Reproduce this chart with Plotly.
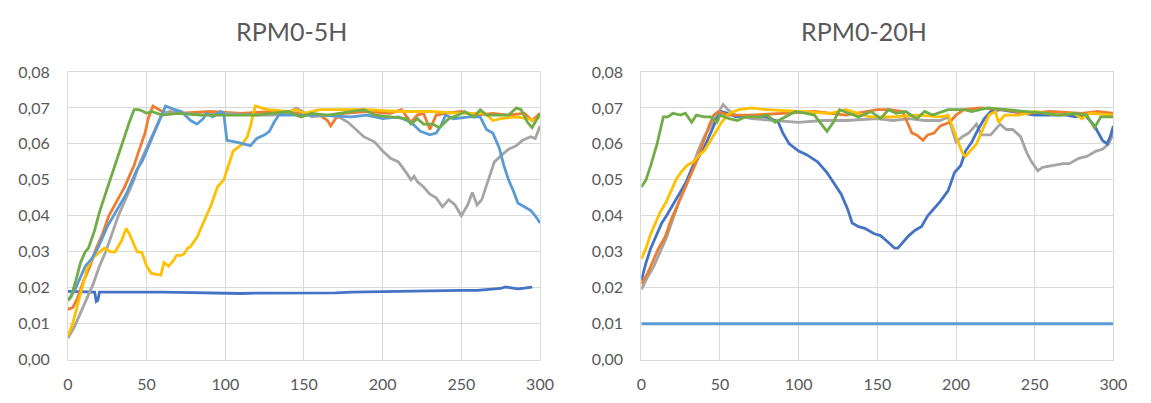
import plotly.graph_objects as go

# ---------------- data ----------------
titles = ["RPM0-5H", "RPM0-20H"]
y_tickvals = [0.00, 0.01, 0.02, 0.03, 0.04, 0.05, 0.06, 0.07, 0.08]
y_ticktext = ["0,00", "0,01", "0,02", "0,03", "0,04", "0,05", "0,06", "0,07", "0,08"]
x_tickvals = [0, 50, 100, 150, 200, 250, 300]

# Left chart (RPM0-5H)
L_blue_x = [0, 5, 10, 15, 17, 18, 19, 20, 22, 30, 40, 50, 60, 70, 80, 90, 100, 110, 120, 130, 140, 150, 160, 170, 180, 190, 200, 210, 220, 230, 240, 250, 260, 270, 275, 278, 282, 286, 290, 295]
L_blue_y = [0.019, 0.019, 0.019, 0.019, 0.0188, 0.0162, 0.0165, 0.0188, 0.0188, 0.019, 0.0188, 0.0188, 0.0188, 0.0187, 0.0186, 0.0186, 0.0186, 0.0184, 0.0185, 0.0185, 0.0185, 0.0184, 0.0185, 0.0186, 0.0188, 0.0189, 0.019, 0.019, 0.019, 0.0192, 0.0193, 0.0193, 0.0193, 0.0195, 0.0198, 0.0202, 0.0199, 0.0197, 0.0199, 0.0202]

L_orange_x = [0, 3, 6, 10, 14, 18, 22, 26, 31, 36, 40, 42, 45, 49, 51, 54, 58, 62, 70, 90, 110, 130, 150, 160, 165, 167, 170, 175, 190, 205, 212, 218, 222, 226, 230, 234, 240, 250, 260, 270, 280, 290, 295, 300]
L_orange_y = [0.014, 0.0145, 0.017, 0.022, 0.026, 0.031, 0.035, 0.040, 0.044, 0.048, 0.052, 0.054, 0.058, 0.063, 0.067, 0.0705, 0.0695, 0.0685, 0.0685, 0.069, 0.0685, 0.069, 0.0685, 0.068, 0.0665, 0.065, 0.067, 0.0685, 0.069, 0.0685, 0.0695, 0.066, 0.068, 0.0685, 0.064, 0.068, 0.0685, 0.069, 0.068, 0.0685, 0.068, 0.0685, 0.0665, 0.0685]

L_gray_x = [0, 4, 8, 12, 16, 20, 24, 28, 32, 37, 42, 46, 51, 56, 60, 65, 75, 85, 100, 120, 130, 140, 145, 155, 165, 172, 178, 183, 188, 195, 200, 205, 210, 215, 218, 220, 222, 226, 230, 234, 238, 242, 246, 250, 254, 257, 260, 263, 267, 271, 276, 280, 285, 289, 294, 297, 300]
L_gray_y = [0.006, 0.009, 0.013, 0.017, 0.021, 0.026, 0.030, 0.035, 0.040, 0.045, 0.050, 0.055, 0.060, 0.065, 0.0685, 0.069, 0.0685, 0.068, 0.0685, 0.068, 0.068, 0.0685, 0.070, 0.0675, 0.068, 0.0675, 0.066, 0.064, 0.062, 0.0605, 0.058, 0.056, 0.055, 0.052, 0.050, 0.051, 0.0495, 0.048, 0.046, 0.045, 0.0425, 0.0445, 0.043, 0.040, 0.043, 0.0465, 0.043, 0.0445, 0.050, 0.055, 0.057, 0.0585, 0.0595, 0.061, 0.062, 0.0615, 0.065]

L_yellow_x = [0, 3, 6, 9, 12, 15, 20, 23, 27, 30, 34, 37, 39, 42, 44, 47, 50, 53, 56, 59, 61, 64, 67, 69, 72, 74, 76, 78, 82, 85, 88, 91, 95, 99, 102, 105, 108, 111, 114, 116, 119, 123, 127, 140, 145, 150, 160, 175, 190, 210, 230, 250, 265, 270, 275, 285, 292, 296, 300]
L_yellow_y = [0.0065, 0.010, 0.015, 0.020, 0.025, 0.028, 0.030, 0.031, 0.030, 0.030, 0.033, 0.0365, 0.035, 0.032, 0.030, 0.0298, 0.026, 0.024, 0.0238, 0.0235, 0.027, 0.026, 0.0275, 0.029, 0.029, 0.0295, 0.031, 0.0315, 0.034, 0.037, 0.040, 0.043, 0.048, 0.050, 0.054, 0.058, 0.059, 0.060, 0.062, 0.065, 0.0705, 0.070, 0.0695, 0.069, 0.0695, 0.0685, 0.0695, 0.0695, 0.0695, 0.069, 0.069, 0.0685, 0.0685, 0.0665, 0.067, 0.0675, 0.067, 0.0665, 0.0675]

L_lblue_x = [0, 4, 8, 11, 15, 19, 22, 25, 29, 33, 37, 40, 44, 47, 52, 56, 59, 62, 68, 72, 78, 82, 86, 88, 92, 97, 99, 101, 107, 112, 116, 120, 125, 128, 131, 134, 145, 160, 180, 190, 200, 210, 218, 224, 230, 234, 237, 240, 245, 255, 262, 266, 270, 274, 277, 280, 283, 286, 290, 294, 297, 300]
L_lblue_y = [0.0165, 0.019, 0.023, 0.026, 0.028, 0.031, 0.034, 0.037, 0.040, 0.043, 0.046, 0.049, 0.053, 0.055, 0.060, 0.064, 0.067, 0.0705, 0.0695, 0.069, 0.0665, 0.0655, 0.067, 0.0685, 0.0675, 0.069, 0.0685, 0.061, 0.0605, 0.060, 0.0595, 0.0615, 0.0625, 0.0635, 0.066, 0.068, 0.068, 0.068, 0.0675, 0.068, 0.067, 0.0675, 0.066, 0.0635, 0.0625, 0.063, 0.065, 0.068, 0.067, 0.0675, 0.0675, 0.064, 0.063, 0.059, 0.054, 0.050, 0.047, 0.0435, 0.0425, 0.0415, 0.040, 0.038]

L_green_x = [0, 2, 5, 8, 11, 13, 17, 20, 23, 26, 29, 33, 36, 39, 42, 45, 48, 50, 53, 60, 70, 85, 100, 120, 130, 140, 148, 155, 165, 180, 188, 195, 205, 215, 218, 222, 226, 232, 236, 242, 248, 252, 258, 262, 266, 280, 285, 288, 292, 295, 300]
L_green_y = [0.0165, 0.0175, 0.022, 0.027, 0.030, 0.031, 0.036, 0.041, 0.045, 0.049, 0.053, 0.058, 0.062, 0.066, 0.0695, 0.0695, 0.069, 0.0685, 0.069, 0.068, 0.0685, 0.068, 0.068, 0.068, 0.0685, 0.069, 0.0675, 0.0685, 0.068, 0.069, 0.0695, 0.068, 0.0675, 0.067, 0.0655, 0.067, 0.0655, 0.0655, 0.0645, 0.067, 0.068, 0.069, 0.0675, 0.0695, 0.068, 0.068, 0.070, 0.0695, 0.066, 0.0645, 0.0685]

# Right chart (RPM0-20H)
R_lblue_x = [0, 50, 100, 150, 200, 250, 300]
R_lblue_y = [0.01, 0.01, 0.01, 0.01, 0.01, 0.01, 0.01]

R_blue_x = [0, 3, 6, 9, 13, 16, 20, 24, 28, 32, 36, 40, 44, 48, 51, 55, 60, 70, 80, 87, 90, 94, 100, 105, 112, 118, 121, 127, 131, 134, 138, 142, 148, 152, 156, 161, 163, 167, 170, 174, 178, 182, 186, 190, 195, 199, 203, 206, 210, 214, 218, 222, 228, 235, 250, 260, 270, 276, 282, 288, 293, 296, 298, 300]
R_blue_y = [0.022, 0.027, 0.031, 0.034, 0.038, 0.040, 0.043, 0.046, 0.049, 0.053, 0.056, 0.059, 0.063, 0.067, 0.069, 0.0685, 0.0675, 0.068, 0.0675, 0.066, 0.063, 0.060, 0.058, 0.057, 0.055, 0.052, 0.050, 0.046, 0.042, 0.038, 0.037, 0.0365, 0.035, 0.0345, 0.033, 0.031, 0.031, 0.033, 0.0345, 0.036, 0.037, 0.040, 0.042, 0.044, 0.047, 0.052, 0.054, 0.058, 0.0605, 0.064, 0.067, 0.069, 0.0695, 0.069, 0.068, 0.068, 0.068, 0.0675, 0.068, 0.065, 0.061, 0.060, 0.062, 0.065]

R_orange_x = [0, 4, 8, 11, 15, 19, 23, 27, 31, 35, 39, 43, 46, 49, 55, 70, 90, 110, 130, 150, 158, 166, 169, 172, 175, 179, 182, 186, 190, 196, 200, 205, 215, 230, 245, 260, 280, 290, 300]
R_orange_y = [0.021, 0.024, 0.028, 0.031, 0.034, 0.039, 0.043, 0.047, 0.051, 0.055, 0.060, 0.065, 0.068, 0.069, 0.068, 0.068, 0.0685, 0.069, 0.068, 0.0695, 0.0695, 0.069, 0.066, 0.063, 0.0625, 0.061, 0.0625, 0.063, 0.065, 0.066, 0.068, 0.0695, 0.070, 0.0695, 0.0685, 0.069, 0.0685, 0.069, 0.0685]

R_gray_x = [0, 4, 8, 12, 16, 20, 24, 28, 32, 36, 40, 44, 49, 52, 55, 60, 70, 85, 100, 115, 130, 150, 160, 170, 180, 190, 195, 200, 204, 208, 213, 216, 222, 228, 232, 236, 241, 245, 248, 252, 255, 262, 268, 272, 278, 283, 289, 293, 297, 300]
R_gray_y = [0.0195, 0.023, 0.026, 0.030, 0.034, 0.039, 0.044, 0.048, 0.053, 0.058, 0.062, 0.065, 0.069, 0.071, 0.0695, 0.068, 0.067, 0.0665, 0.066, 0.0665, 0.0665, 0.067, 0.0665, 0.067, 0.0665, 0.0665, 0.0675, 0.0605, 0.062, 0.063, 0.0655, 0.0625, 0.0625, 0.0655, 0.064, 0.064, 0.062, 0.0575, 0.055, 0.0525, 0.0535, 0.054, 0.0545, 0.0545, 0.056, 0.0565, 0.058, 0.0585, 0.060, 0.063]

R_yellow_x = [0, 3, 6, 9, 12, 16, 19, 22, 25, 29, 33, 37, 40, 44, 48, 51, 56, 62, 70, 80, 100, 120, 130, 145, 160, 175, 190, 195, 200, 204, 206, 209, 213, 217, 221, 225, 227, 231, 240, 250, 265, 275, 280, 285, 300]
R_yellow_y = [0.028, 0.031, 0.035, 0.038, 0.041, 0.044, 0.047, 0.050, 0.052, 0.054, 0.055, 0.057, 0.058, 0.061, 0.064, 0.066, 0.0685, 0.0695, 0.070, 0.0695, 0.069, 0.0685, 0.0695, 0.0675, 0.0675, 0.068, 0.0675, 0.068, 0.062, 0.0575, 0.0565, 0.058, 0.060, 0.064, 0.068, 0.069, 0.066, 0.068, 0.068, 0.069, 0.068, 0.0685, 0.067, 0.0685, 0.068]

R_green_x = [0, 3, 6, 10, 14, 17, 20, 25, 28, 32, 35, 40, 44, 48, 50, 56, 61, 66, 75, 80, 85, 92, 98, 105, 110, 118, 122, 126, 132, 138, 146, 152, 157, 162, 168, 175, 180, 185, 195, 205, 210, 220, 232, 245, 258, 265, 275, 283, 288, 292, 300]
R_green_y = [0.048, 0.050, 0.054, 0.060, 0.0675, 0.0675, 0.0685, 0.068, 0.0685, 0.066, 0.068, 0.0675, 0.0675, 0.066, 0.068, 0.067, 0.0665, 0.0675, 0.0675, 0.068, 0.066, 0.0675, 0.069, 0.0685, 0.068, 0.0635, 0.066, 0.0695, 0.0685, 0.0675, 0.069, 0.067, 0.0695, 0.0685, 0.069, 0.067, 0.069, 0.068, 0.0695, 0.0695, 0.069, 0.070, 0.0695, 0.069, 0.0685, 0.068, 0.0685, 0.068, 0.0645, 0.0675, 0.0675]

# ---------------- styling ----------------
C_BLUE = "#4472C4"
C_ORANGE = "#ED7D31"
C_GRAY = "#A5A5A5"
C_YELLOW = "#FFC000"
C_LBLUE = "#5B9BD5"
C_GREEN = "#70AD47"
TEXT = "#595959"
GRID = "#D9D9D9"
FONT = "Lato, 'Open Sans', sans-serif"
LW = 2.8

fig = go.Figure()

left = [
    (L_blue_x, L_blue_y, C_BLUE),
    (L_orange_x, L_orange_y, C_ORANGE),
    (L_gray_x, L_gray_y, C_GRAY),
    (L_yellow_x, L_yellow_y, C_YELLOW),
    (L_lblue_x, L_lblue_y, C_LBLUE),
    (L_green_x, L_green_y, C_GREEN),
]
right = [
    (R_lblue_x, R_lblue_y, C_LBLUE),
    (R_gray_x, R_gray_y, C_GRAY),
    (R_blue_x, R_blue_y, C_BLUE),
    (R_orange_x, R_orange_y, C_ORANGE),
    (R_yellow_x, R_yellow_y, C_YELLOW),
    (R_green_x, R_green_y, C_GREEN),
]

for xs, ys, c in left:
    fig.add_trace(go.Scatter(x=xs, y=ys, mode="lines", line=dict(color=c, width=LW),
                             xaxis="x", yaxis="y", showlegend=False, hoverinfo="skip"))
for xs, ys, c in right:
    fig.add_trace(go.Scatter(x=xs, y=ys, mode="lines", line=dict(color=c, width=LW),
                             xaxis="x2", yaxis="y2", showlegend=False, hoverinfo="skip"))

W, H = 1151, 403
TOP, BOT = 65, 367
yb, yt = (H - BOT) / H, (H - TOP) / H

def xaxis(dom, anchor):
    return dict(domain=dom, anchor=anchor, range=[0, 300], tickvals=x_tickvals,
                showgrid=True, gridcolor=GRID, gridwidth=1, zeroline=False,
                showline=True, linecolor=GRID, linewidth=1, mirror=True,
                ticks="outside", ticklen=10, tickcolor="rgba(0,0,0,0)",
                tickfont=dict(family=FONT, size=16, color=TEXT),
                fixedrange=True)

def yaxis(anchor):
    return dict(domain=[yb, yt], anchor=anchor, range=[0, 0.08], tickvals=y_tickvals,
                ticktext=y_ticktext, showgrid=True, gridcolor=GRID, gridwidth=1,
                zeroline=False, showline=True, linecolor=GRID, linewidth=1, mirror=True,
                ticks="outside", ticklen=14, tickcolor="rgba(0,0,0,0)",
                tickfont=dict(family=FONT, size=16, color=TEXT), fixedrange=True)

fig.update_layout(
    width=W, height=H,
    margin=dict(l=0, r=0, t=0, b=0),
    paper_bgcolor="white", plot_bgcolor="white",
    xaxis=xaxis([64 / W, 544 / W], "y"),
    yaxis=yaxis("x"),
    xaxis2=xaxis([647 / W, 1127 / W], "y2"),
    yaxis2=yaxis("x2"),
    annotations=[
        dict(text=titles[0], x=291 / W, y=(H - 22) / H, xref="paper", yref="paper",
             showarrow=False, font=dict(family=FONT, size=25, color=TEXT),
             xanchor="center", yanchor="middle"),
        dict(text=titles[1], x=873 / W, y=(H - 22) / H, xref="paper", yref="paper",
             showarrow=False, font=dict(family=FONT, size=25, color=TEXT),
             xanchor="center", yanchor="middle"),
    ],
)

fig.write_html("out.html")
